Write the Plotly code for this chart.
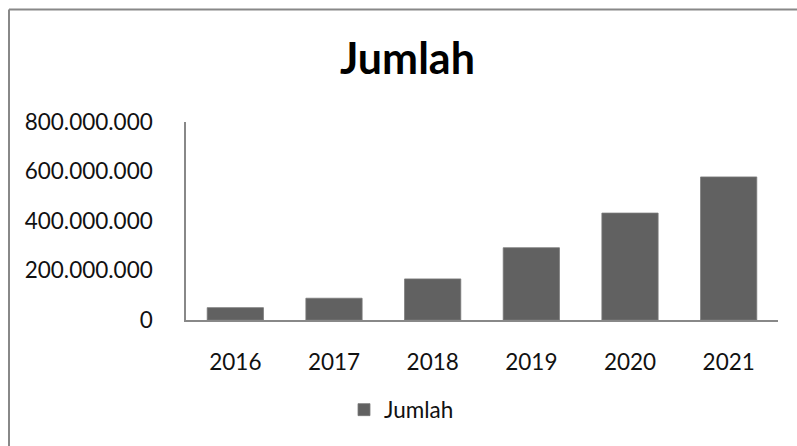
import plotly.graph_objects as go

years = ["2016", "2017", "2018", "2019", "2020", "2021"]
jumlah = [50_000_000, 88_000_000, 166_000_000, 292_000_000, 432_000_000, 578_000_000]
y_ticks = [0, 200_000_000, 400_000_000, 600_000_000, 800_000_000]
y_tick_labels = ["0", "200.000.000", "400.000.000", "600.000.000", "800.000.000"]

W, H = 797, 446
L, R, T, B = 186, 19, 122, 126
pw, ph = W - L - R, H - T - B

def px_x(p):
    return (p - L) / pw

def px_y(p):
    return (H - B - p) / ph

FONT = "Lato"
FS = 22.5

fig = go.Figure()
fig.add_trace(go.Bar(
    x=years, y=jumlah, name="Jumlah",
    marker=dict(color="#616161", line=dict(color="#7a7a7a", width=0.8)),
))

fig.update_layout(
    width=W, height=H,
    margin=dict(l=L, r=R, t=T, b=B),
    paper_bgcolor="white", plot_bgcolor="white",
    bargap=0.43,
    font=dict(family=FONT, size=FS, color="#111111"),
    showlegend=True,
    legend=dict(orientation="h", x=px_x(344), y=px_y(410), xanchor="left", yanchor="middle",
                font=dict(size=FS, family=FONT), itemwidth=30),
    xaxis=dict(showline=True, linecolor="#888888", linewidth=1.5, ticks="",
               showgrid=False, ticklabelstandoff=21, tickfont=dict(size=FS)),
    yaxis=dict(range=[0, 800_000_000], tickvals=y_ticks, ticktext=y_tick_labels,
               showline=True, linecolor="#888888", linewidth=1.5, ticks="",
               showgrid=False, zeroline=False, ticklabelstandoff=27, tickfont=dict(size=FS)),
    shapes=[
        dict(type="line", xref="paper", yref="paper", x0=px_x(9), x1=px_x(800),
             y0=px_y(9.5), y1=px_y(9.5), line=dict(color="#888888", width=2)),
        dict(type="line", xref="paper", yref="paper", x0=px_x(9), x1=px_x(9),
             y0=px_y(9.5), y1=px_y(450), line=dict(color="#888888", width=2)),
    ],
    annotations=[
        dict(text="<b>Jumlah</b>", xref="paper", yref="paper", x=px_x(407), y=px_y(58),
             xanchor="center", yanchor="middle", showarrow=False,
             font=dict(size=43, family=FONT, color="#000000")),
    ],
)

fig.write_html("out.html")
